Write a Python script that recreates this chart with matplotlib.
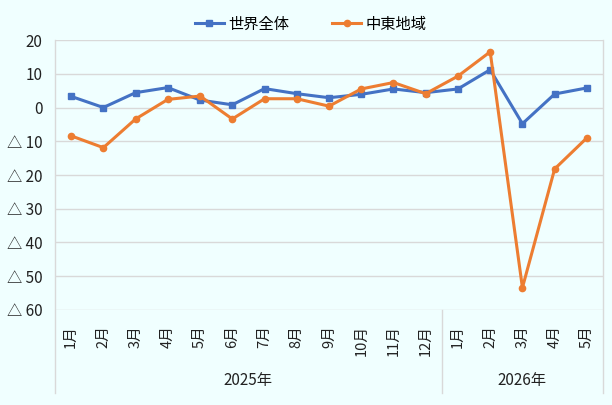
import matplotlib
matplotlib.use("Agg")
import matplotlib.pyplot as plt
import matplotlib.transforms as mtransforms

plt.rcParams['font.family'] = ['Noto Sans CJK JP', 'DejaVu Sans']

# data
months = ["1月", "2月", "3月", "4月", "5月", "6月", "7月", "8月", "9月", "10月", "11月", "12月",
          "1月", "2月", "3月", "4月", "5月"]
years = ["2025年", "2026年"]
months_per_year = [12, 5]
world = [3.3, 0.0, 4.4, 5.9, 2.2, 0.8, 5.6, 4.1, 2.9, 3.9, 5.5, 4.4,
         5.5, 11.2, -4.8, 4.0, 5.8]
mideast = [-8.4, -11.9, -3.4, 2.4, 3.4, -3.4, 2.6, 2.6, 0.4, 5.5, 7.4, 4.1,
           9.3, 16.5, -53.4, -18.2, -9.0]
yticks = [20, 10, 0, -10, -20, -30, -40, -50, -60]

BG = "#F0FFFF"
GRID = "#D9D9D9"

fig = plt.figure(figsize=(6.12, 4.05), dpi=100, facecolor=BG)
ax = fig.add_axes([0.0899, 0.2346, 0.8954, 0.6666], facecolor=BG)

x = list(range(len(months)))
ax.plot(x, world, color="#4472C4", lw=2.2, marker="s", ms=5, label="世界全体")
ax.plot(x, mideast, color="#ED7D31", lw=2.2, marker="o", ms=4.5, label="中東地域")

ax.set_xlim(-0.5, len(months) - 0.5)
ax.set_ylim(-60, 20)
ax.set_yticks(yticks)
ax.set_yticklabels([str(v) if v >= 0 else "△ " + str(-v) for v in yticks], fontsize=11)
ax.set_xticks(x)
ax.set_xticklabels(months, rotation=90, fontsize=10.5, va="top")
ax.tick_params(axis="both", length=0, colors="#222222")
ax.tick_params(axis="y", pad=9)
ax.tick_params(axis="x", pad=11)
ax.grid(axis="y", color=GRID, lw=1)
ax.set_axisbelow(True)
for s in ax.spines.values():
    s.set_visible(False)

# category axis border lines (extending below the plot)
trans = mtransforms.blended_transform_factory(ax.transData, ax.transAxes)
low = -0.3075
ax.plot([-0.5, -0.5], [1, low], color=GRID, lw=1, transform=trans, clip_on=False)
ax.plot([len(months) - 0.5] * 2, [1, low], color=GRID, lw=1, transform=trans, clip_on=False)
start = 0
for i, (yr, n) in enumerate(zip(years, months_per_year)):
    ax.text(start + (n - 1) / 2, -0.2594, yr, transform=trans, ha="center", va="center",
            fontsize=11, color="#222222")
    start += n
    if i < len(years) - 1:
        ax.plot([start - 0.5] * 2, [0, low], color=GRID, lw=1, transform=trans, clip_on=False)

fig.legend(loc="center", bbox_to_anchor=(0.508, 0.940), ncol=2, frameon=False,
           fontsize=11, handlelength=1.9, columnspacing=2.8, handletextpad=0.3)

fig.savefig("out.png", dpi=100, facecolor=BG)
